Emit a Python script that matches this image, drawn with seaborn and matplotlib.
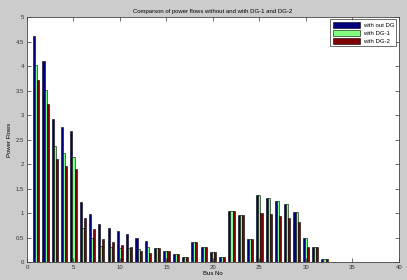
import matplotlib
matplotlib.use("Agg")
import matplotlib.pyplot as plt
import seaborn as sns
import pandas as pd
import numpy as np

buses = list(range(1, 38))
without_dg = [4.62, 4.10, 2.92, 2.75, 2.68, 1.22, 0.99, 0.77, 0.69, 0.63, 0.57, 0.50, 0.42,
              0.28, 0.22, 0.16, 0.10, 0.40, 0.30, 0.20, 0.10, 1.05, 0.95, 0.46, 1.37, 1.31,
              1.24, 1.18, 1.03, 0.48, 0.31, 0.07, 0.01, 0.01, 0.01, 0.01, 0.01]
with_dg1 = [4.03, 3.52, 2.37, 2.22, 2.14, 0.69, 0.49, 0.32, 0.30, 0.28, 0.28, 0.26, 0.30,
            0.28, 0.22, 0.16, 0.10, 0.40, 0.30, 0.20, 0.10, 1.05, 0.95, 0.46, 1.37, 1.31,
            1.24, 1.18, 1.03, 0.48, 0.31, 0.07, 0.01, 0.01, 0.01, 0.01, 0.01]
with_dg2 = [3.72, 3.22, 2.10, 1.96, 1.89, 0.89, 0.67, 0.46, 0.40, 0.34, 0.30, 0.23, 0.19,
            0.28, 0.22, 0.16, 0.10, 0.40, 0.30, 0.20, 0.10, 1.05, 0.95, 0.46, 1.01, 0.98,
            0.94, 0.90, 0.82, 0.31, 0.31, 0.07, 0.01, 0.01, 0.01, 0.01, 0.01]
series_names = ["with out DG", "with DG-1", "with DG-2"]
colors = ["#00007F", "#80FF80", "#7F0000"]

df = pd.DataFrame({
    "bus": buses * 3,
    "flow": without_dg + with_dg1 + with_dg2,
    "series": [series_names[0]] * len(buses) + [series_names[1]] * len(buses) + [series_names[2]] * len(buses),
})

plt.rcParams["font.family"] = ["Liberation Sans", "DejaVu Sans"]
fig = plt.figure(figsize=(4.07, 2.80), dpi=100, facecolor="#cccccc")
ax = fig.add_axes([0.0663, 0.0643, 0.9137, 0.8747])
ax.set_facecolor("white")

sns.barplot(data=df, x="bus", y="flow", hue="series", hue_order=series_names,
            palette=colors, native_scale=True, width=0.67, edgecolor="black",
            linewidth=0.4, ax=ax, errorbar=None, saturation=1)

ax.set_xlim(0, 40)
ax.set_ylim(0, 5)
ax.set_xticks(np.arange(0, 41, 5))
ax.set_yticks(np.arange(0, 5.01, 0.5))
ax.set_xticklabels([str(v) for v in range(0, 41, 5)])
ax.set_yticklabels(["0", "0.5", "1", "1.5", "2", "2.5", "3", "3.5", "4", "4.5", "5"])
ax.tick_params(direction="in", length=3, width=0.5, labelsize=4.3, top=True, right=True,
               colors="#333333", pad=2)
for s in ax.spines.values():
    s.set_linewidth(0.6)
    s.set_color("#444444")

ax.set_title("Comparson of power flows without and with DG-1 and DG-2", fontsize=4.3, pad=3)
ax.set_xlabel("Bus No", fontsize=4.3, labelpad=1)
ax.set_ylabel("Power Flows", fontsize=4.3, labelpad=3)

leg = ax.legend(loc="upper right", fontsize=4.3, frameon=True, fancybox=False,
                edgecolor="black", handlelength=4.5, handleheight=1.2, borderpad=0.4,
                labelspacing=0.3, handletextpad=0.5, borderaxespad=0.4)
leg.get_frame().set_linewidth(0.5)

fig.savefig("out.png", dpi=100, facecolor=fig.get_facecolor())
